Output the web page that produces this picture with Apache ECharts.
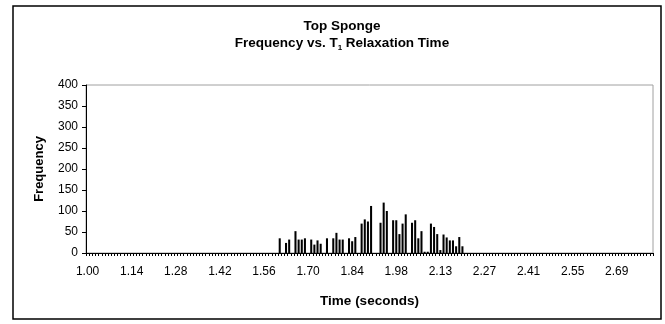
<!DOCTYPE html>
<html>
<head>
<meta charset="utf-8">
<script src="https://cdn.jsdelivr.net/npm/echarts@6/dist/echarts.min.js"></script>
<style>
html,body{margin:0;padding:0;background:#fff;}
#c{width:665px;height:324px;}
</style>
</head>
<body>
<div id="c"></div>
<script>
// 180 time bins (seconds), step 2/199 starting at 1.00
const binCount = 180;
const binStart = 1.0;
const binStep = 2 / 199;
const timeBins = [];
for (let i = 0; i < binCount; i++) timeBins.push((binStart + i * binStep).toFixed(2));

// Frequency per bin
const frequency = [
  0,0,0,0,0,0,0,0,0,0, 0,0,0,0,0,0,0,0,0,0,
  0,0,0,0,0,0,0,0,0,0, 0,0,0,0,0,0,0,0,0,0,
  0,0,0,0,0,0,0,0,0,0, 0,0,0,0,0,0,0,0,0,0,
  0,35,0,24,32,0,52,32,32,35,
  0,32,20,30,22,0,35,0,35,48,
  32,32,0,35,28,38,0,70,80,75,
  112,0,0,72,120,100,0,78,78,45,
  70,92,0,72,78,35,52,3,3,70,
  62,45,7,44,37,30,30,16,38,16,
  0,0,0,0,0,0,0,0,0,0, 0,0,0,0,0,0,0,0,0,0,
  0,0,0,0,0,0,0,0,0,0, 0,0,0,0,0,0,0,0,0,0,
  0,0,0,0,0,0,0,0,0,0, 0,0,0,0,0,0,0,0,0,0
];

const yMin = 0, yMax = 400, yStep = 50;

const chart = echarts.init(document.getElementById('c'), null, {renderer: 'canvas'});
const font = 'Liberation Sans, Arial, sans-serif';
chart.setOption({
  animation: false,
  backgroundColor: '#fff',
  title: {
    text: '{b|Top Sponge}\n{b|Frequency vs. T}{s|1}{b| Relaxation Time}',
    left: 337, top: 13, textAlign: 'center',
    textStyle: {
      rich: {
        b: {fontFamily: font, fontWeight: 'bold', fontSize: 13.5, color: '#000', lineHeight: 17},
        s: {fontFamily: font, fontWeight: 'bold', fontSize: 8, color: '#000', verticalAlign: 'bottom', padding: [7,0,0,0], lineHeight: 17}
      }
    }
  },
  graphic: [{
    type: 'rect', silent: true,
    shape: {x: 13, y: 6, width: 648, height: 313},
    style: {fill: 'none', stroke: '#000', lineWidth: 1.5}
  }],
  grid: {left: 86, right: 12, top: 85, bottom: 71, show: true, borderColor: '#a0a0a0', borderWidth: 1, backgroundColor: '#fff'},
  xAxis: {
    type: 'category',
    data: timeBins,
    boundaryGap: true,
    name: 'Time (seconds)',
    nameLocation: 'middle',
    nameGap: 41,
    nameTextStyle: {fontFamily: font, fontWeight: 'bold', fontSize: 13.5, color: '#000'},
    axisLine: {lineStyle: {color: '#000', width: 1}},
    axisTick: {show: true, interval: 0, length: 3, lineStyle: {color: '#000', width: 1}},
    axisLabel: {interval: 13, fontFamily: font, fontSize: 12, color: '#000', margin: 13},
    splitLine: {show: false}
  },
  yAxis: {
    type: 'value',
    min: yMin, max: yMax, interval: yStep,
    name: 'Frequency',
    nameLocation: 'middle',
    nameGap: 40,
    nameTextStyle: {fontFamily: font, fontWeight: 'bold', fontSize: 13, color: '#000'},
    axisLine: {show: true, lineStyle: {color: '#000', width: 1}},
    axisTick: {show: true, length: 4, lineStyle: {color: '#000'}},
    axisLabel: {fontFamily: font, fontSize: 12, color: '#000', margin: 8},
    splitLine: {show: false}
  },
  series: [{
    type: 'bar',
    data: frequency,
    barWidth: '65%',
    itemStyle: {color: '#000'}
  }]
});
</script>
</body>
</html>
